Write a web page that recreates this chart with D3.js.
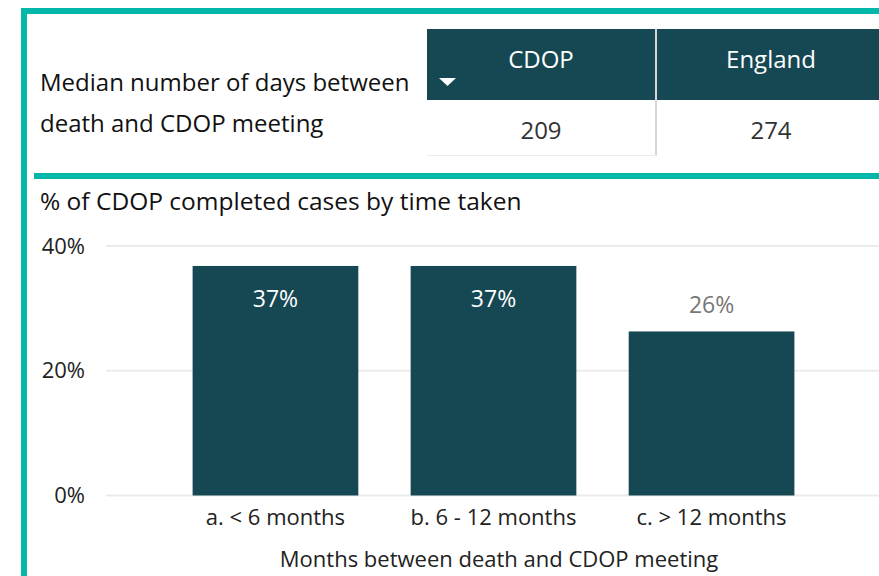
<!DOCTYPE html>
<html>
<head>
<meta charset="utf-8">
<script src="https://cdn.jsdelivr.net/npm/d3@7"></script>
<style>
  body { margin: 0; background: #fff; }
  svg { display: block; font-family: "Open Sans", "Noto Sans", sans-serif; }
</style>
</head>
<body>
<svg width="879" height="576"></svg>
<script>
// table data
var tableColumns = ["CDOP", "England"];
var tableValues = [209, 274];
var tableLabel = ["Median number of days between", "death and CDOP meeting"];

// bar chart data
var categories = ["a. < 6 months", "b. 6 - 12 months", "c. > 12 months"];
var percentValues = [36.8, 36.8, 26.3];
var yTicks = [0, 20, 40];

var teal = "#04b7a9";
var dark = "#164853";

var svg = d3.select("svg");

// panel borders
svg.append("rect").attr("x", 21).attr("y", 8).attr("width", 858).attr("height", 6).attr("fill", teal);
svg.append("rect").attr("x", 21).attr("y", 8).attr("width", 6).attr("height", 568).attr("fill", teal);
svg.append("rect").attr("x", 34).attr("y", 173).attr("width", 845).attr("height", 6).attr("fill", teal);

// ---- table ----
var colScale = d3.scaleBand()
    .domain(tableColumns)
    .range([427, 887]);

svg.selectAll(".label-line")
    .data(tableLabel)
    .enter().append("text")
    .attr("class", "label-line")
    .attr("x", 40)
    .attr("y", function (d, i) { return 91 + i * 41; })
    .attr("font-size", "24px")
    .attr("fill", "#111")
    .text(function (d) { return d; });

svg.selectAll(".head")
    .data(tableColumns)
    .enter().append("rect")
    .attr("class", "head")
    .attr("x", function (d) { return colScale(d); })
    .attr("y", 29)
    .attr("width", colScale.bandwidth())
    .attr("height", 71)
    .attr("fill", dark);

// column divider and body border
svg.append("rect").attr("x", 655).attr("y", 29).attr("width", 2).attr("height", 127).attr("fill", "#d6d6d6");
svg.append("rect").attr("x", 427).attr("y", 155).attr("width", 230).attr("height", 1).attr("fill", "#ececec");

// sort arrow
svg.append("path")
    .attr("d", "M439,78 L456,78 L447.5,86 Z")
    .attr("fill", "#fff");

svg.selectAll(".head-text")
    .data(tableColumns)
    .enter().append("text")
    .attr("class", "head-text")
    .attr("x", function (d) { return colScale(d) + 114; })
    .attr("y", 68)
    .attr("text-anchor", "middle")
    .attr("font-size", "24px")
    .attr("fill", "#fff")
    .text(function (d) { return d; });

svg.selectAll(".cell-text")
    .data(tableValues)
    .enter().append("text")
    .attr("class", "cell-text")
    .attr("x", function (d, i) { return colScale(tableColumns[i]) + 114; })
    .attr("y", 139)
    .attr("text-anchor", "middle")
    .attr("font-size", "24px")
    .attr("fill", "#333")
    .text(function (d) { return d; });

// ---- bar chart ----
svg.append("text")
    .attr("x", 40)
    .attr("y", 210)
    .attr("font-size", "24.5px")
    .attr("fill", "#111")
    .text("% of CDOP completed cases by time taken");

var xScale = d3.scaleBand()
    .domain(categories)
    .range([108, 879])
    .paddingInner(0.24)
    .paddingOuter(0.388);

var yScale = d3.scaleLinear()
    .domain([0, 40])
    .range([495.5, 246]);

// gridlines
svg.selectAll(".grid")
    .data(yTicks)
    .enter().append("line")
    .attr("class", "grid")
    .attr("x1", 106)
    .attr("x2", 879)
    .attr("y1", function (d) { return yScale(d); })
    .attr("y2", function (d) { return yScale(d); })
    .attr("stroke", "#ebebeb")
    .attr("stroke-width", 2);

// y axis labels
var yAxis = d3.axisLeft(yScale)
    .tickValues(yTicks)
    .tickSize(0)
    .tickPadding(0)
    .tickFormat(function (d) { return d + "%"; });

var yAxisG = svg.append("g")
    .attr("transform", "translate(85,0)")
    .call(yAxis);
yAxisG.select(".domain").remove();
yAxisG.selectAll("text")
    .attr("font-family", "Open Sans, Noto Sans, sans-serif")
    .attr("font-size", "22px")
    .attr("fill", "#222");

// bars
svg.selectAll(".bar")
    .data(percentValues)
    .enter().append("rect")
    .attr("class", "bar")
    .attr("x", function (d, i) { return xScale(categories[i]); })
    .attr("y", function (d) { return yScale(d); })
    .attr("width", xScale.bandwidth())
    .attr("height", function (d) { return yScale(0) - yScale(d); })
    .attr("fill", dark);

// data labels: inside when bar is tall, above otherwise
svg.selectAll(".bar-label")
    .data(percentValues)
    .enter().append("text")
    .attr("class", "bar-label")
    .attr("x", function (d, i) { return xScale(categories[i]) + xScale.bandwidth() / 2; })
    .attr("y", function (d) { return d > 30 ? yScale(d) + 41 : yScale(d) - 18; })
    .attr("text-anchor", "middle")
    .attr("font-size", "23px")
    .attr("fill", function (d) { return d > 30 ? "#fff" : "#777"; })
    .text(function (d) { return Math.round(d) + "%"; });

// x axis labels
var xAxis = d3.axisBottom(xScale).tickSize(0).tickPadding(0);
var xAxisG = svg.append("g")
    .attr("transform", "translate(0,509)")
    .call(xAxis);
xAxisG.select(".domain").remove();
xAxisG.selectAll("text")
    .attr("font-family", "Open Sans, Noto Sans, sans-serif")
    .attr("font-size", "22px")
    .attr("fill", "#222");

svg.append("text")
    .attr("x", 499)
    .attr("y", 567)
    .attr("text-anchor", "middle")
    .attr("font-size", "22px")
    .attr("fill", "#222")
    .text("Months between death and CDOP meeting");
</script>
</body>
</html>
